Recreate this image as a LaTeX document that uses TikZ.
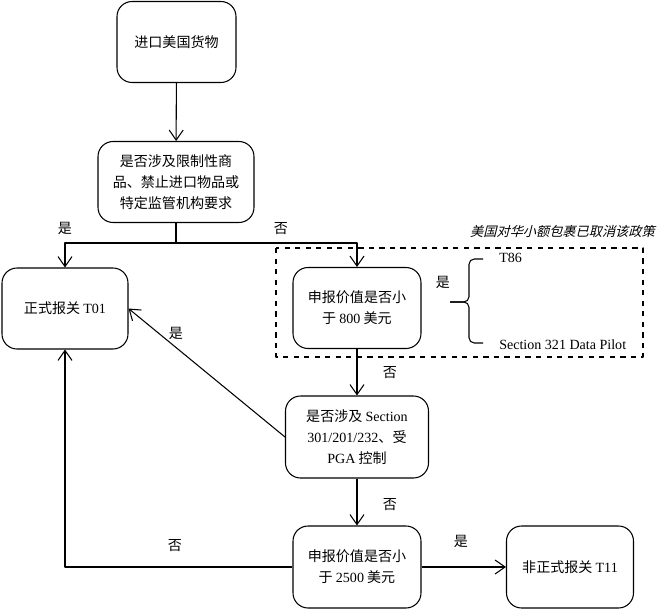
\documentclass[tikz,border=0pt]{standalone}
\usepackage{fontspec}
\setmainfont{Liberation Serif}
\newfontfamily\cjk{Noto Sans CJK SC}
\newfontfamily\cjkslant[FakeSlant=0.25]{Noto Sans CJK SC}
\usetikzlibrary{arrows.meta}
\tikzset{
  box/.style={draw, rounded corners=3mm, align=center, inner sep=2pt, minimum height=1.62cm, font=\fontsize{8}{12}\selectfont\cjk},
  yesno/.style={font=\fontsize{8}{10}\selectfont\cjk, inner sep=1pt},
  ref/.style={anchor=west, inner sep=1pt}
}
\begin{document}
\begin{tikzpicture}[x=0.02cm, y=-0.02cm, >={Straight Barb[length=2mm,width=2.8mm]}, font=\fontsize{8}{10}\selectfont, line width=0.6pt, line join=round]
\useasboundingbox (0,0) rectangle (667,609);
% boxes
\node[box, minimum width=2.38cm] (goods) at (176.5,42) {进口美国货物};
\node[box, minimum width=3.12cm] (restrict) at (176,182) {是否涉及限制性商\\品、禁止进口物品或\\特定监管机构要求};
\node[box, minimum width=2.52cm] (t01) at (65,308.5) {正式报关 {\rmfamily T01}};
\node[box, minimum width=2.56cm] (v800) at (357,308) {申报价值是否小\\于 {\rmfamily 800} 美元};
\node[box, minimum width=2.86cm, minimum height=1.64cm] (sec) at (357,437) {是否涉及 {\rmfamily Section}\\{\rmfamily 301/201/232}、受\\{\rmfamily PGA} 控制};
\node[box, minimum width=2.56cm, minimum height=1.64cm] (v2500) at (357,567) {申报价值是否小\\于 {\rmfamily 2500} 美元};
\node[box, minimum width=2.54cm, minimum height=1.64cm] (t11) at (570,567) {非正式报关 {\rmfamily T11}};
% small-parcel part
\draw[dashed] (276,248) rectangle (643,357);
\node[anchor=east, font=\fontsize{7.5}{9}\selectfont\cjkslant, inner sep=1pt] (note) at (657,231) {美国对华小额包裹已取消该政策};
\draw[rounded corners=3] (483,259) -- (469,259) -- (469,302) -- (450,302);
\draw[rounded corners=3] (450,302) -- (469,302) -- (469,343) -- (483,343);
\node[ref] (t86) at (497,258) {T86};
\node[ref] (pilot) at (497,345) {Section 321 Data Pilot};
% connectors
\coordinate (split) at (176,243);
\draw[->] (goods) -- (restrict);
\draw (restrict) -- (split);
\draw[->] (split) -| (t01.north);
\draw[->] (split) -| (v800.north);
\draw[->] (v800) -- (sec);
\draw[->] (sec.west) -- (t01.east);
\draw[->] (sec) -- (v2500);
\draw[->] (v2500.west) -| (t01.south);
\draw[->] (v2500) -- (t11);
% labels
\node[yesno] (y1) at (65,228) {是};
\node[yesno] (n1) at (281,229) {否};
\node[yesno] (y2) at (443,282) {是};
\node[yesno] (n2) at (390,373) {否};
\node[yesno] (y3) at (176,333) {是};
\node[yesno] (n3) at (390,505) {否};
\node[yesno] (n4) at (175,546) {否};
\node[yesno] (y4) at (461,541) {是};
\end{tikzpicture}
\end{document}
